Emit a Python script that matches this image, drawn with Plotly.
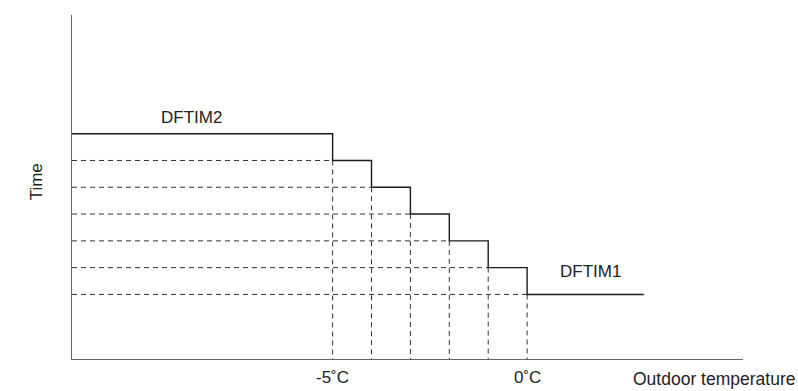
import plotly.graph_objects as go

# step breakpoints (outdoor temperature, deg C) and time levels
temps = [-5, -4, -3, -2, -1, 0]
levels = [7, 6, 5, 4, 3, 2, 1]   # DFTIM2 ... DFTIM1
x_start, x_end = -11.7, 3
tick_vals = [-5, 0]
tick_text = ["-5˚C", "0˚C"]

INK = "#1a1a1a"
DASH = "#333333"

# build the step line
sx, sy = [x_start], [levels[0]]
for t, lo, hi in zip(temps, levels[1:], levels[:-1]):
    sx += [t, t]
    sy += [hi, lo]
sx.append(x_end)
sy.append(levels[-1])

fig = go.Figure()

# dashed guides: horizontal from the axis to the step, vertical from step down
for t, lv in zip(temps, levels[1:]):
    fig.add_trace(go.Scatter(x=[x_start, t], y=[lv, lv], mode="lines",
        line=dict(color=DASH, width=1, dash="5px,4px"), hoverinfo="skip"))
    fig.add_trace(go.Scatter(x=[t, t], y=[lv, -1.41], mode="lines",
        line=dict(color=DASH, width=1, dash="5px,4px"), hoverinfo="skip"))

fig.add_trace(go.Scatter(x=sx, y=sy, mode="lines",
    line=dict(color=INK, width=1.4), hoverinfo="skip"))

fnt = dict(family="Liberation Sans, Arial, sans-serif", size=17, color="#222")
big = dict(fnt, size=17.5)
ann = [
    dict(x=-8.64, y=7.62, text="DFTIM2", showarrow=False, font=fnt),
    dict(x=1.62, y=1.84, text="DFTIM1", showarrow=False, font=fnt),
    dict(x=1, xref="paper", y=0, yref="paper", xanchor="left", yanchor="top",
         xshift=-112, yshift=-8, text="Outdoor temperature", showarrow=False, font=big),
    dict(x=0, xref="paper", y=0.515, yref="paper", xshift=-47, textangle=-90,
         text="Time", showarrow=False, font=fnt),
]
for v, t in zip(tick_vals, tick_text):
    ann.append(dict(x=v, y=0, yref="paper", yanchor="top", yshift=-7,
                    text=t, showarrow=False, font=fnt))

fig.update_layout(
    width=798, height=391,
    margin=dict(l=72, r=55, t=15, b=32),
    paper_bgcolor="white", plot_bgcolor="white",
    showlegend=False,
    annotations=ann,
    xaxis=dict(range=[x_start, 5.55], showline=True, linecolor="#666", linewidth=1.2,
               showgrid=False, zeroline=False, showticklabels=False, ticks=""),
    yaxis=dict(range=[-1.41, 11.43], showline=True, linecolor="#666", linewidth=1.2,
               showgrid=False, zeroline=False, showticklabels=False, ticks=""),
)

fig.write_html("out.html", config={"displayModeBar": False},
               post_script="document.body.style.margin='0';")
